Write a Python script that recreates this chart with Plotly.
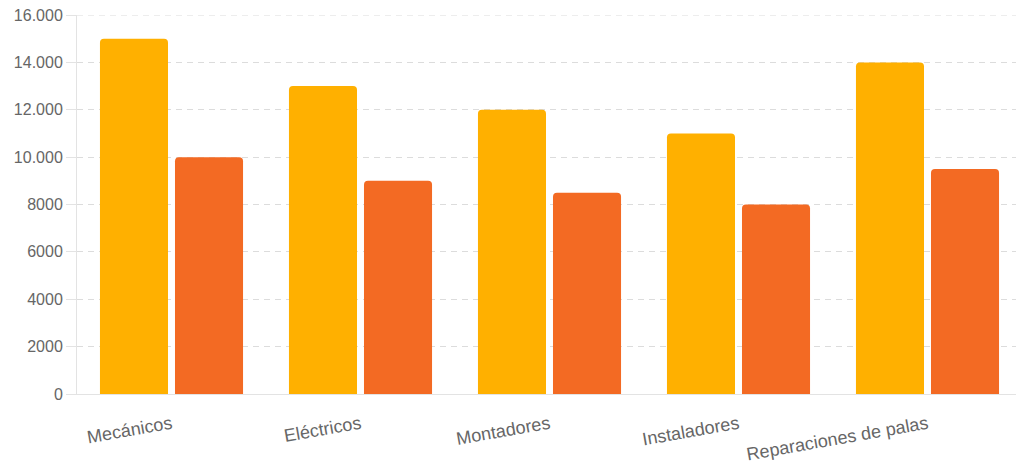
import plotly.graph_objects as go

categories = ["Mecánicos", "Eléctricos", "Montadores", "Instaladores", "Reparaciones de palas"]
series_a = [15000, 13000, 12000, 11000, 14000]
series_b = [10000, 9000, 8500, 8000, 9500]
tick_vals = [0, 2000, 4000, 6000, 8000, 10000, 12000, 14000, 16000]
tick_text = ["0", "2000", "4000", "6000", "8000", "10.000", "12.000", "14.000", "16.000"]

fig = go.Figure()
fig.add_trace(go.Bar(x=categories, y=series_a, marker=dict(color="#FFB000", cornerradius=4, line=dict(width=0)), name="A"))
fig.add_trace(go.Bar(x=categories, y=series_b, marker=dict(color="#F36A23", cornerradius=4, line=dict(width=0)), name="B"))

# top gridline at the end of the axis range (plotly drops gridlines at range ends)
fig.add_shape(type="line", xref="paper", x0=0, x1=1, yref="y", y0=tick_vals[-1], y1=tick_vals[-1],
              line=dict(color="#dcdcdc", width=1, dash="6px,5px"), layer="below")

# page body has an 8px margin; size the figure so it fits the 1024x469 window
fig.update_layout(
    width=1016, height=461,
    margin=dict(l=69, r=2, t=7, b=75, autoexpand=False),
    barmode="group", bargap=0.206, bargroupgap=0.093,
    plot_bgcolor="white", paper_bgcolor="white",
    showlegend=False,
    font=dict(family="Liberation Sans, Arial", color="#666666"),
)
fig.update_yaxes(
    range=[0, 16000], tickvals=tick_vals, ticktext=tick_text,
    tickfont=dict(size=16, color="#666666"), ticklabeloverflow="allow",
    showgrid=True, gridcolor="#dcdcdc", griddash="6px,5px", gridwidth=1,
    showline=True, linecolor="#e3e3e3", linewidth=1,
    ticks="outside", ticklen=10, tickcolor="#e3e3e3",
    zeroline=False, automargin=False,
)
fig.update_xaxes(
    tickangle=-10, tickfont=dict(size=18, color="#666666"),
    showline=True, linecolor="#e3e3e3", linewidth=1,
    ticks="outside", ticklen=12, tickcolor="rgba(0,0,0,0)",
    showgrid=False, automargin=False,
)
fig.write_html("out.html")
